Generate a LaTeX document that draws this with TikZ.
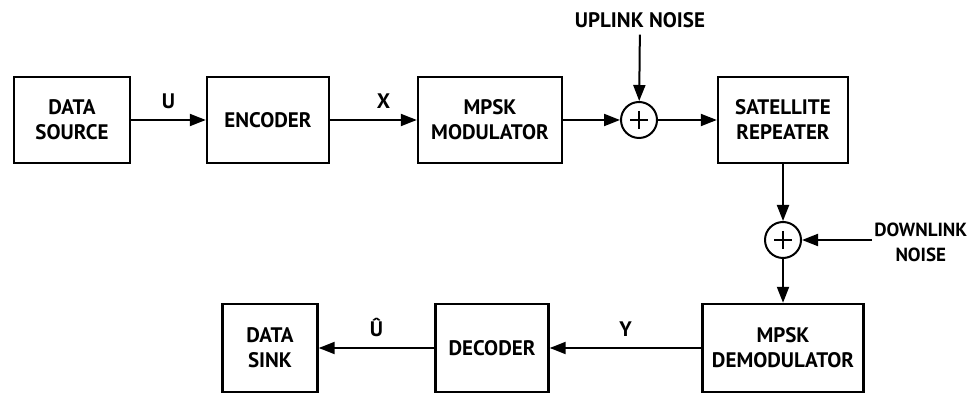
\documentclass[tikz,border=0pt]{standalone}
\usepackage{fontspec}
\setmainfont{PT Sans}
\usetikzlibrary{arrows.meta}
\tikzset{
  block/.style={draw,line width=1.2pt,minimum height=43pt,inner sep=2pt,align=center,font=\bfseries\fontsize{10.5}{12.5}\selectfont},
  adder/.style={draw,circle,line width=1pt,minimum size=18pt,inner sep=0pt,
    path picture={\draw[line width=0.9pt] (path picture bounding box.center) +(-9,0) -- +(9,0)
      (path picture bounding box.center) +(0,-9) -- +(0,9);}},
  lbl/.style={align=center,font=\bfseries\fontsize{10.5}{13}\selectfont},
  arr/.style={line width=1pt,-{Triangle[length=8pt,width=6pt]}}
}
\begin{document}
\begin{tikzpicture}[x=0.5pt,y=-0.5pt]
  \useasboundingbox (0,0) rectangle (972,394);
  % top row
  \node[block,minimum width=58pt] (src) at (72,120) {DATA\\SOURCE};
  \node[block,minimum width=61pt] (enc) at (268,120) {ENCODER};
  \node[block,minimum width=72pt] (mod) at (490,120) {MPSK\\MODULATOR};
  \node[adder] (sum1) at (639,120) {};
  \node[block,minimum width=65pt] (rep) at (783,120) {SATELLITE\\REPEATER};
  \node[lbl] (upn) at (640,20) {UPLINK NOISE};
  % down path
  \node[adder] (sum2) at (783,240) {};
  \node[lbl,anchor=west,inner sep=1pt,font=\bfseries\fontsize{9.5}{12.5}\selectfont] (dwn) at (872,242) {DOWNLINK\\NOISE};
  % bottom row
  \node[block,minimum width=80.5pt,minimum height=44pt] (dem) at (783,348) {MPSK\\DEMODULATOR};
  \node[block,minimum width=56.5pt,minimum height=44pt] (dec) at (492,348) {DECODER};
  \node[block,minimum width=47.5pt,minimum height=44pt] (snk) at (270,348) {DATA\\SINK};
  \draw[arr] (src) -- node[lbl,above=2pt] (u) {U} (enc);
  \draw[arr] (enc) -- node[lbl,above=2pt,xshift=5pt] (x) {X} (mod);
  \draw[arr] (mod) -- (sum1);
  \draw[arr] (sum1) -- (rep);
  \draw[arr] (upn) -- (sum1);
  \draw[arr] (rep) -- (sum2);
  \draw[arr] (dwn.west |- sum2) -- (sum2);
  \draw[arr] (sum2) -- (dem);
  \draw[arr] (dem) -- node[lbl,above=2pt] (y) {Y} (dec);
  \draw[arr] (dec) -- node[lbl,above=2pt] (uhat) {Û} (snk);
\end{tikzpicture}
\end{document}
